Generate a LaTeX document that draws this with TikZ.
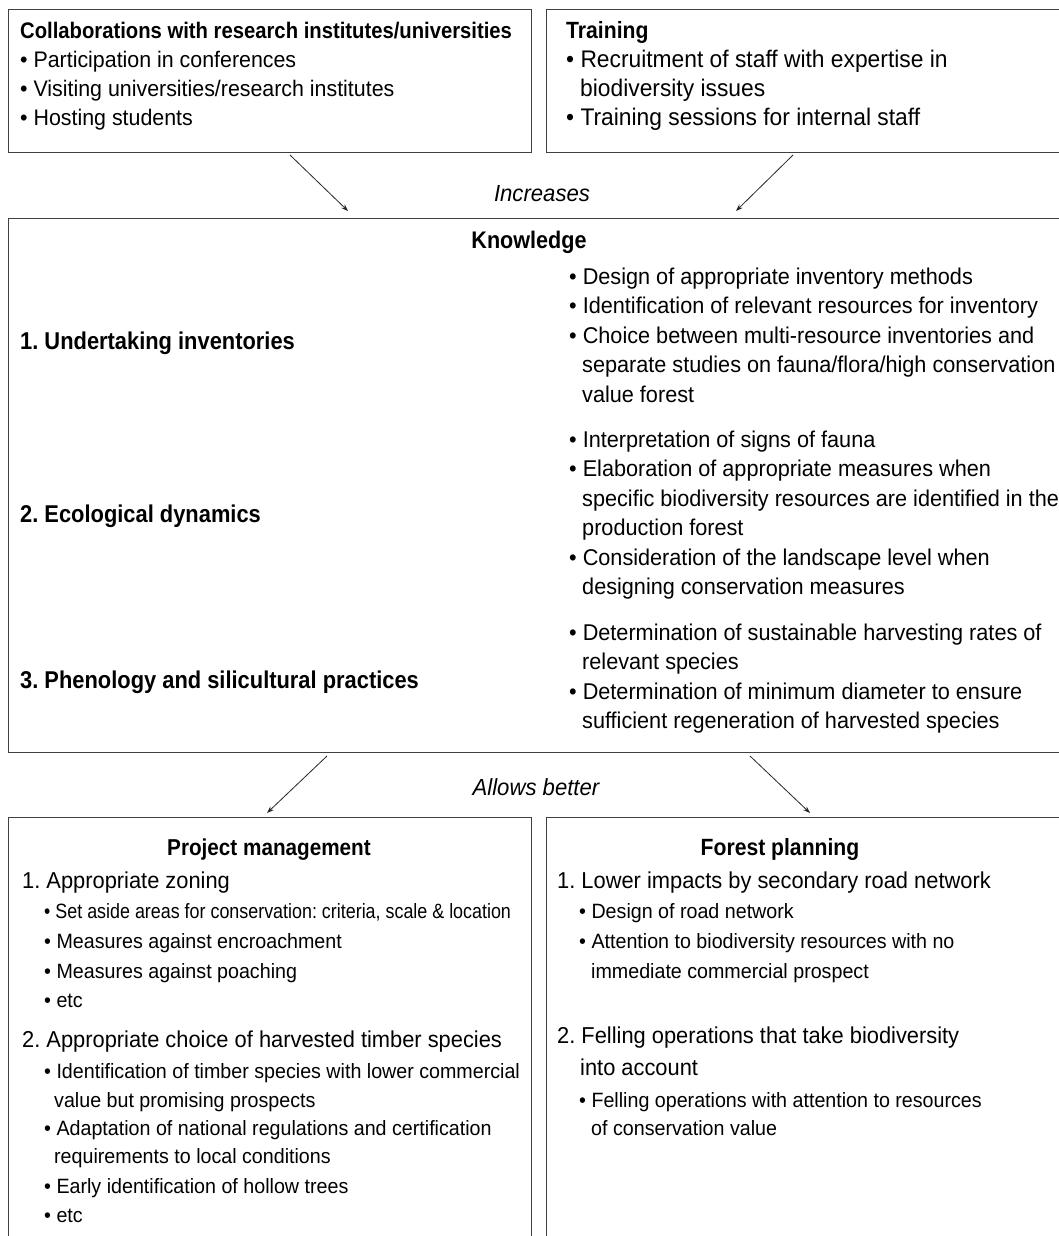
\documentclass[tikz,border=0pt]{standalone}
\usepackage{fontspec}
\setmainfont[FakeStretch=0.95]{Liberation Sans}
\newfontfamily\boldf[FakeStretch=0.9]{Liberation Sans}
\usetikzlibrary{arrows.meta}
\frenchspacing
\begin{document}
\frenchspacing
\begin{tikzpicture}[x=1pt,y=-1pt,
  box/.style={draw=black!75, line width=1pt, anchor=north west, inner sep=0pt, fill=none},
  txt/.style={anchor=base west, inner sep=0pt, font=\fontsize{#1}{29.5}\selectfont},
  txt/.default=22.8,
  bld/.style={anchor=base west, inner sep=0pt, font=\boldf\fontsize{#1}{29.5}\selectfont\bfseries},
  bld/.default=23.5,
  bldc/.style={anchor=base, inner sep=0pt, font=\boldf\fontsize{#1}{29.5}\selectfont\bfseries},
  bldc/.default=23.5,
  sml/.style={anchor=base west, inner sep=0pt, font=\fontsize{20.7}{25}\selectfont},
  lbl/.style={anchor=base, inner sep=0pt, font=\fontsize{23.3}{29.5}\selectfont\itshape},
  arr/.style={-{Stealth[length=7pt,width=5pt]}, line width=0.8pt, draw=black!85}]
\useasboundingbox (0,0) rectangle (1059,1236);
\clip (0,0) rectangle (1059,1236);
% boxes
\node[box, minimum width=523pt, minimum height=143pt] (collab) at (8,9) {};
\node[box, minimum width=540pt, minimum height=143pt] (train) at (546,9) {};
\node[box, minimum width=1080pt, minimum height=534pt] (know) at (8,218) {};
\node[box, minimum width=523pt, minimum height=440pt] (proj) at (8,817) {};
\node[box, minimum width=540pt, minimum height=440pt] (forest) at (546,817) {};
% top left
\node[bld=22.5] (c0) at (20,39) {Collaborations with research institutes/universities};
\node[txt=22.5] (c1) at (20,68) {• Participation in conferences};
\node[txt=22.5] (c2) at (20,97) {• Visiting universities/research institutes};
\node[txt=22.5] (c3) at (20,126) {• Hosting students};
% top right
\node[bld] (r0) at (566,39) {Training};
\node[txt=24] (r1) at (566,68) {• Recruitment of staff with expertise in};
\node[txt=24] (r2) at (580,97) {biodiversity issues};
\node[txt=24] (r3) at (566,126) {• Training sessions for internal staff};
% increases
\node[lbl] (inc) at (542,201) {Increases};
\coordinate (a1s) at (290,155);
\coordinate (a1e) at (348,211);
\coordinate (a2s) at (793,155);
\coordinate (a2e) at (736,211);
\draw[arr] (a1s) -- (a1e);
\draw[arr] (a2s) -- (a2e);
% knowledge
\node[bldc=24] (k0) at (529,248) {Knowledge};
\node[bld=24.3] (k1) at (20,349) {1. Undertaking inventories};
\node[bld=24.3] (k2) at (20,522) {2. Ecological dynamics};
\node[bld=24.3] (k3) at (20,688) {3. Phenology and silicultural practices};
\node[txt] (g1a) at (569,284) {• Design of appropriate inventory methods};
\node[txt] (g1b) at (569,313.5) {• Identification of relevant resources for inventory};
\node[txt] (g1c) at (569,343) {• Choice between multi-resource inventories and};
\node[txt] (g1d) at (582,372.5) {separate studies on fauna/flora/high conservation};
\node[txt] (g1e) at (582,402) {value forest};
\node[txt] (g2a) at (569,447) {• Interpretation of signs of fauna};
\node[txt] (g2b) at (569,476.5) {• Elaboration of appropriate measures when};
\node[txt] (g2c) at (582,506) {specific biodiversity resources are identified in the};
\node[txt] (g2d) at (582,535.5) {production forest};
\node[txt] (g2e) at (569,565) {• Consideration of the landscape level when};
\node[txt] (g2f) at (582,594.5) {designing conservation measures};
\node[txt] (g3a) at (569,640) {• Determination of sustainable harvesting rates of};
\node[txt] (g3b) at (582,669.5) {relevant species};
\node[txt] (g3c) at (569,699) {• Determination of minimum diameter to ensure};
\node[txt] (g3d) at (582,728.5) {sufficient regeneration of harvested species};
% allows better
\node[lbl] (allow) at (536,795) {Allows better};
\coordinate (b1s) at (327,756);
\coordinate (b1e) at (267,813);
\coordinate (b2s) at (750,756);
\coordinate (b2e) at (810,813);
\draw[arr] (b1s) -- (b1e);
\draw[arr] (b2s) -- (b2e);
% project management
\node[bldc=23] (p0) at (269,855) {Project management};
\node[txt=23] (p1) at (22,888) {1. Appropriate zoning};
\node[sml] (p1a) at (44,918) {\scalebox{0.91}[1]{• Set aside areas for conservation: criteria, scale \& location}};
\node[sml] (p1b) at (44,948) {• Measures against encroachment};
\node[sml] (p1c) at (44,978) {• Measures against poaching};
\node[sml] (p1d) at (44,1007) {• etc};
\node[txt=23] (p2) at (22,1047) {2. Appropriate choice of harvested timber species};
\node[sml] (p2a) at (44,1078) {• Identification of timber species with lower commercial};
\node[sml] (p2b) at (54,1107) {value but promising prospects};
\node[sml] (p2c) at (44,1135) {• Adaptation of national regulations and certification};
\node[sml] (p2d) at (54,1163) {requirements to local conditions};
\node[sml] (p2e) at (44,1193) {• Early identification of hollow trees};
\node[sml] (p2f) at (44,1222) {• etc};
% forest planning
\node[bldc] (f0) at (780,855) {Forest planning};
\node[txt=23] (f1) at (557,888) {1. Lower impacts by secondary road network};
\node[sml] (f1a) at (579,918) {• Design of road network};
\node[sml] (f1b) at (579,948) {• Attention to biodiversity resources with no};
\node[sml] (f1c) at (591,978) {immediate commercial prospect};
\node[txt=23] (f2) at (557,1043) {2. Felling operations that take biodiversity};
\node[txt=23] (f2b) at (580,1075) {into account};
\node[sml] (f2c) at (579,1107) {• Felling operations with attention to resources};
\node[sml] (f2d) at (591,1135) {of conservation value};
\end{tikzpicture}
\end{document}
